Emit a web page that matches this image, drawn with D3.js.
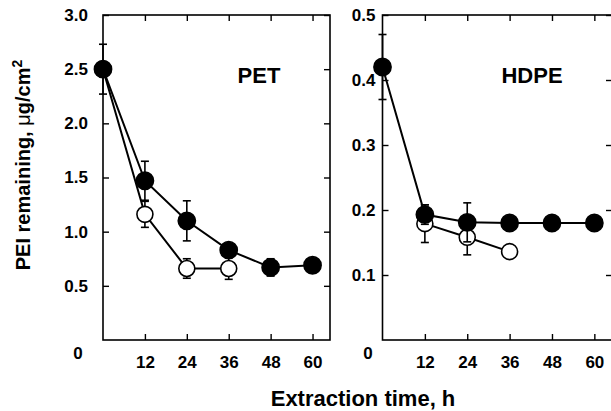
<!DOCTYPE html>
<html>
<head>
<meta charset="utf-8">
<script src="https://cdn.jsdelivr.net/npm/d3@7"></script>
<style>
body { margin: 0; background: #fff; }
svg text { font-family: "Liberation Sans", Arial, sans-serif; font-weight: bold; fill: #000; }
</style>
</head>
<body>
<div id="graph"></div>
<script>
var svgWidth = 611;
var svgHeight = 411;

// time points (h)
var timeAll = [0, 12, 24, 36, 48, 60];
var xTicks = [12, 24, 36, 48, 60];

// PET panel
var petFilled = [2.5, 1.47, 1.1, 0.83, 0.67, 0.69];
var petFilledErr = [0.23, 0.18, 0.185, 0.04, 0.08, 0.03];
var petOpenTime = [0, 12, 24, 36];
var petOpen = [2.5, 1.16, 0.66, 0.66];
var petOpenErr = [0, 0.12, 0.09, 0.1];
var petYTicks = [0.5, 1.0, 1.5, 2.0, 2.5, 3.0];

// HDPE panel
var hdpeFilled = [0.42, 0.193, 0.181, 0.18, 0.18, 0.18];
var hdpeFilledErr = [0.05, 0.015, 0.03, 0, 0, 0];
var hdpeOpenTime = [12, 24, 36];
var hdpeOpen = [0.179, 0.158, 0.136];
var hdpeOpenErr = [0.029, 0.027, 0];
var hdpeYTicks = [0.1, 0.2, 0.3, 0.4, 0.5];

var svg = d3.select("#graph")
	.append("svg")
	.attr("width", svgWidth)
	.attr("height", svgHeight);

function drawPanel(opts) {
	var x = d3.scaleLinear().domain([0, 65]).range([opts.left, opts.right]);
	var y = d3.scaleLinear().domain([0, opts.ymax]).range([340, 15]);
	var g = svg.append("g");

	// frame
	g.append("rect")
		.attr("x", opts.left).attr("y", 15)
		.attr("width", opts.right - opts.left).attr("height", 325)
		.attr("fill", "none").attr("stroke", "#000").attr("stroke-width", 1.6);

	// inward ticks
	var bottom = d3.axisBottom(x).tickValues(xTicks).tickSize(-6).tickPadding(16);
	var gb = g.append("g").attr("transform", "translate(0,340)").call(bottom);
	var top = d3.axisTop(x).tickValues(xTicks).tickSize(-6).tickFormat("");
	var gt = g.append("g").attr("transform", "translate(0,15)").call(top);
	var left = d3.axisLeft(y).tickValues(opts.yTicks).tickSize(-6).tickPadding(opts.ypad)
		.tickFormat(d3.format(".1f"));
	var gl = g.append("g").attr("transform", "translate(" + opts.left + ",0)").call(left);
	var right = d3.axisRight(y).tickValues(opts.yTicks).tickSize(-6).tickFormat("");
	var gr = g.append("g").attr("transform", "translate(" + opts.right + ",0)").call(right);

	[gb, gt, gl, gr].forEach(function (a) {
		a.select(".domain").remove();
		a.selectAll(".tick line").attr("stroke", "#000").attr("stroke-width", 1.4);
		a.selectAll("text").attr("font-size", 17).attr("font-family", null);
	});

	// zero label at the corner
	g.append("text")
		.attr("x", opts.zeroX).attr("y", 359)
		.attr("text-anchor", "middle")
		.attr("font-size", 17)
		.text("0");

	g.append("text")
		.attr("x", opts.labelX).attr("y", 83)
		.attr("text-anchor", "middle")
		.attr("font-size", 22)
		.text(opts.name);

	var line = d3.line().x(d => x(d.t)).y(d => y(d.v));

	function series(times, vals, errs, filled) {
		var pts = times.map((t, i) => ({ t: t, v: vals[i], e: errs[i] }));
		g.append("path").datum(pts)
			.attr("d", line)
			.attr("fill", "none").attr("stroke", "#000").attr("stroke-width", 2);
		var eb = g.append("g").selectAll("g").data(pts.filter(d => d.e > 0)).enter().append("g");
		eb.append("line")
			.attr("x1", d => x(d.t)).attr("x2", d => x(d.t))
			.attr("y1", d => y(d.v - d.e)).attr("y2", d => y(d.v + d.e))
			.attr("stroke", "#000").attr("stroke-width", 1.6);
		[-1, 1].forEach(function (s) {
			eb.append("line")
				.attr("x1", d => x(d.t) - 4).attr("x2", d => x(d.t) + 4)
				.attr("y1", d => y(d.v + s * d.e)).attr("y2", d => y(d.v + s * d.e))
				.attr("stroke", "#000").attr("stroke-width", 1.6);
		});
		g.append("g").selectAll("circle").data(pts).enter().append("circle")
			.attr("cx", d => x(d.t)).attr("cy", d => y(d.v))
			.attr("r", filled ? 8.6 : 8)
			.attr("fill", filled ? "#000" : "#fff")
			.attr("stroke", "#000").attr("stroke-width", 1.6);
	}

	series(opts.openTime, opts.open, opts.openErr, false);
	series(timeAll, opts.filled, opts.filledErr, true);
}

drawPanel({
	left: 103, right: 330, ymax: 3, yTicks: petYTicks, name: "PET", labelX: 259,
	ypad: 15, zeroX: 78,
	filled: petFilled, filledErr: petFilledErr,
	openTime: petOpenTime, open: petOpen, openErr: petOpenErr
});

drawPanel({
	left: 382.5, right: 612, ymax: 0.5, yTicks: hdpeYTicks, name: "HDPE", labelX: 532,
	ypad: 7, zeroX: 368,
	filled: hdpeFilled, filledErr: hdpeFilledErr,
	openTime: hdpeOpenTime, open: hdpeOpen, openErr: hdpeOpenErr
});

// y axis title
svg.append("text")
	.attr("transform", "translate(30,165) rotate(-90)")
	.attr("text-anchor", "middle")
	.attr("font-size", 20)
	.html("PEI remaining, <tspan font-weight='normal'>μ</tspan>g/cm<tspan dy='-8' font-size='14'>2</tspan>");

// x axis title
svg.append("text")
	.attr("x", 363).attr("y", 406)
	.attr("text-anchor", "middle")
	.attr("font-size", 22)
	.text("Extraction time, h");
</script>
</body>
</html>
